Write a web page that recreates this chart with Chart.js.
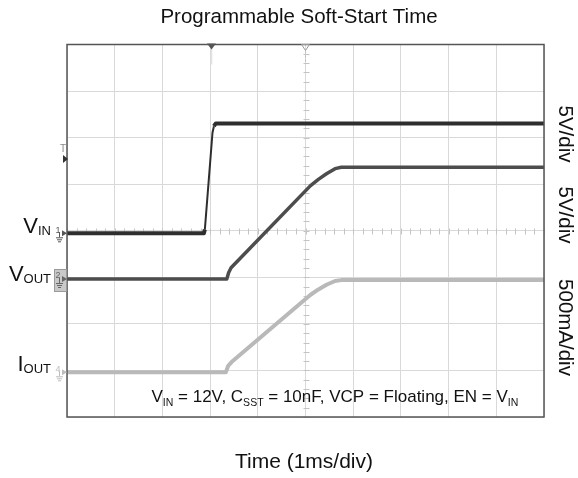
<!DOCTYPE html>
<html><head><meta charset="utf-8">
<script src="https://cdn.jsdelivr.net/npm/chart.js@4.4.1/dist/chart.umd.min.js"></script>
<style>html,body{margin:0;padding:0;background:#fff}canvas{display:block}</style>
</head><body>
<canvas id="c" width="578" height="478"></canvas>
<script>
// ---- data (time in ms, 1 ms/div) ----
const vinTime   = [0, 2.87, 2.89, 3.05, 3.08, 3.12, 3.16, 10];
const vinVolts  = [0, 0, 0.4, 10.8, 11.5, 11.8, 11.8, 11.8];
const voutTime  = [0, 3.35, 3.39, 3.44, 5.10, 5.27, 5.44, 5.62, 5.75, 10];
const voutVolts = [0, 0, 0.7, 1.2, 10.0, 10.7, 11.3, 11.85, 12.0, 12.0];
const ioutTime  = [0, 3.33, 3.38, 3.45, 5.10, 5.27, 5.44, 5.62, 5.75, 10];
const ioutAmps  = [0, 0, 0.07, 0.11, 0.83, 0.89, 0.94, 0.98, 0.99, 0.99];

// channel settings: ground offsets (divisions from bottom) and scale per division
const channelNames   = ['1', '2', '4'];
const channelOffsets = [3.945, 2.964, 0.96];
const channelPerDiv  = [5, 5, 0.5];
const scaleLabels    = ['5V/div', '5V/div', '500mA/div'];
const markerTimes    = [3.03, 5.0];
const triggerLevelDiv = 5.54;

const FONT = '"Liberation Sans", Arial, Helvetica, sans-serif';

function toPoints(ts, vs, ch) {
  return ts.map((t, i) => ({ x: t, y: channelOffsets[ch] + vs[i] / channelPerDiv[ch] }));
}

function richWidth(ctx, parts) {
  let w = 0;
  for (const p of parts) { ctx.font = p.s + 'px ' + FONT; w += ctx.measureText(p.t).width; }
  return w;
}
function drawRich(ctx, parts, x, y, align) {
  const w = richWidth(ctx, parts);
  let cx = align === 'right' ? x - w : (align === 'center' ? x - w / 2 : x);
  ctx.textAlign = 'left'; ctx.textBaseline = 'alphabetic';
  for (const p of parts) {
    ctx.font = p.s + 'px ' + FONT;
    ctx.fillText(p.t, cx, y + (p.dy || 0));
    cx += ctx.measureText(p.t).width;
  }
}

const decor = {
  id: 'decor',
  beforeDatasetsDraw(chart) {
    const { ctx, chartArea: a, scales: { x, y } } = chart;
    ctx.save();
    ctx.strokeStyle = '#c4c4c4'; ctx.lineWidth = 1;
    const cx = Math.round(x.getPixelForValue(5)) + 0.5;
    const cy = Math.round(y.getPixelForValue(4)) + 0.5;
    ctx.beginPath();
    for (let v = 0; v <= 8.0001; v += 0.2) {
      const py = Math.round(y.getPixelForValue(v)) + 0.5;
      ctx.moveTo(cx - 3, py); ctx.lineTo(cx + 3, py);
    }
    for (let t = 0; t <= 10.0001; t += 0.2) {
      const px = Math.round(x.getPixelForValue(t)) + 0.5;
      ctx.moveTo(px, cy - 3); ctx.lineTo(px, cy + 3);
    }
    ctx.stroke();
    ctx.restore();
  },
  afterDraw(chart) {
    const { ctx, chartArea: a, scales: { x, y } } = chart;
    ctx.save();
    ctx.strokeStyle = '#555'; ctx.lineWidth = 1.5;
    ctx.strokeRect(a.left, a.top, a.right - a.left, a.bottom - a.top);

    // top markers
    const m1 = x.getPixelForValue(markerTimes[0]);
    const m2 = x.getPixelForValue(markerTimes[1]);
    ctx.strokeStyle = '#e2e2e2'; ctx.lineWidth = 1.5;
    ctx.beginPath(); ctx.moveTo(m1, a.top); ctx.lineTo(m1, a.top + 20); ctx.stroke();
    ctx.fillStyle = '#555';
    ctx.beginPath(); ctx.moveTo(m1 - 4.5, a.top - 1); ctx.lineTo(m1 + 4.5, a.top - 1); ctx.lineTo(m1, a.top + 5); ctx.closePath(); ctx.fill();
    ctx.strokeStyle = '#999'; ctx.lineWidth = 1;
    ctx.beginPath(); ctx.moveTo(m2 - 4, a.top); ctx.lineTo(m2 + 4, a.top); ctx.lineTo(m2, a.top + 6); ctx.closePath(); ctx.stroke();
    ctx.setLineDash([2, 2]); ctx.strokeStyle = '#bbb';
    ctx.beginPath(); ctx.moveTo(m2, a.top + 7); ctx.lineTo(m2, a.top + 19); ctx.stroke();
    ctx.setLineDash([]);

    // trigger level marker
    const ty = y.getPixelForValue(triggerLevelDiv);
    ctx.fillStyle = '#888'; ctx.font = '10px ' + FONT; ctx.textAlign = 'center'; ctx.textBaseline = 'middle';
    ctx.fillText('T', a.left - 4, ty - 10);
    ctx.fillStyle = '#333';
    ctx.beginPath(); ctx.moveTo(a.left - 4, ty - 4); ctx.lineTo(a.left + 1, ty); ctx.lineTo(a.left - 4, ty + 4); ctx.closePath(); ctx.fill();

    // channel ground markers
    const chColors = ['#555', '#666', '#bdbdbd'];
    channelOffsets.forEach((off, i) => {
      const py = y.getPixelForValue(off);
      if (i === 1) {
        ctx.fillStyle = '#c9c9c9'; ctx.strokeStyle = '#9a9a9a'; ctx.lineWidth = 1;
        ctx.fillRect(a.left - 12, py - 9, 11, 21); ctx.strokeRect(a.left - 12.5, py - 9.5, 12, 22);
      }
      ctx.fillStyle = chColors[i]; ctx.strokeStyle = chColors[i];
      ctx.font = '9px ' + FONT; ctx.textAlign = 'center'; ctx.textBaseline = 'middle';
      ctx.fillText(channelNames[i], a.left - 9, py - 3);
      ctx.beginPath(); ctx.moveTo(a.left - 5, py - 3); ctx.lineTo(a.left, py); ctx.lineTo(a.left - 5, py + 3); ctx.closePath(); ctx.fill();
      ctx.lineWidth = 1;
      ctx.beginPath();
      ctx.moveTo(a.left - 7.5, py - 1); ctx.lineTo(a.left - 7.5, py + 4);
      ctx.moveTo(a.left - 11, py + 4.5); ctx.lineTo(a.left - 4, py + 4.5);
      ctx.moveTo(a.left - 10, py + 6.5); ctx.lineTo(a.left - 5, py + 6.5);
      ctx.moveTo(a.left - 9, py + 8.5); ctx.lineTo(a.left - 6, py + 8.5);
      ctx.stroke();
    });

    // left trace labels
    ctx.fillStyle = '#111';
    const lx = a.left - 16;
    drawRich(ctx, [{ t: 'V', s: 22 }, { t: 'IN', s: 13, dy: 2 }], lx, y.getPixelForValue(channelOffsets[0]) - 0.5, 'right');
    drawRich(ctx, [{ t: 'V', s: 22 }, { t: 'OUT', s: 13, dy: 2 }], lx, y.getPixelForValue(channelOffsets[1]) + 2.5, 'right');
    drawRich(ctx, [{ t: 'I', s: 22 }, { t: 'OUT', s: 13, dy: 2 }], lx, y.getPixelForValue(channelOffsets[2]) - 1.5, 'right');

    // condition annotation
    drawRich(ctx, [
      { t: 'V', s: 17 }, { t: 'IN', s: 10.5, dy: 4 },
      { t: ' = 12V, C', s: 17 }, { t: 'SST', s: 10.5, dy: 4 },
      { t: ' = 10nF, VCP = Floating, EN = V', s: 17 }, { t: 'IN', s: 10.5, dy: 4 }
    ], a.left + 84.5, 401.7, 'left');

    // right rotated scale labels
    const rCenters = [134, 215, 327.5];
    ctx.font = '20.5px ' + FONT; ctx.fillStyle = '#111'; ctx.textAlign = 'center'; ctx.textBaseline = 'middle';
    scaleLabels.forEach((s, i) => {
      ctx.save(); ctx.translate(565, rCenters[i]); ctx.rotate(Math.PI / 2); ctx.fillText(s, 0, 0); ctx.restore();
    });

    // title and x-axis title
    ctx.textBaseline = 'alphabetic'; ctx.textAlign = 'center';
    ctx.font = '20.5px ' + FONT;
    ctx.fillText('Programmable Soft-Start Time', 299, 22.7);
    ctx.font = '21px ' + FONT;
    ctx.fillText('Time (1ms/div)', 304, 468);
    ctx.restore();
  }
};

const steepThin = (w) => (c) => {
  const dx = Math.abs(c.p1.x - c.p0.x), dy = Math.abs(c.p1.y - c.p0.y);
  return dy > 4 * dx ? 2 : w;
};
const ds = (label, pts, color, w) => ({
  label, data: pts, showLine: true, borderColor: color, borderWidth: w,
  pointRadius: 0, tension: 0, fill: false, borderCapStyle: 'butt', borderJoinStyle: 'round',
  segment: { borderWidth: steepThin(w) }
});

new Chart(document.getElementById('c').getContext('2d'), {
  type: 'scatter',
  data: {
    datasets: [
      ds('IOUT', toPoints(ioutTime, ioutAmps, 2), '#b9b9b9', 4),
      ds('VOUT', toPoints(voutTime, voutVolts, 1), '#4d4d4d', 3.5),
      ds('VIN', toPoints(vinTime, vinVolts, 0), '#2e2e2e', 4)
    ]
  },
  options: {
    responsive: false, animation: false, devicePixelRatio: 1,
    layout: { padding: { left: 67, right: 34, top: 44.5, bottom: 61 } },
    plugins: { legend: { display: false }, tooltip: { enabled: false }, title: { display: false } },
    scales: {
      x: { type: 'linear', min: 0, max: 10, ticks: { display: false, stepSize: 1 },
           grid: { color: '#d9d9d9', lineWidth: 1, drawTicks: false }, border: { display: false } },
      y: { type: 'linear', min: 0, max: 8, ticks: { display: false, stepSize: 1 },
           grid: { color: '#d9d9d9', lineWidth: 1, drawTicks: false }, border: { display: false } }
    }
  },
  plugins: [decor]
});
</script>
</body></html>
